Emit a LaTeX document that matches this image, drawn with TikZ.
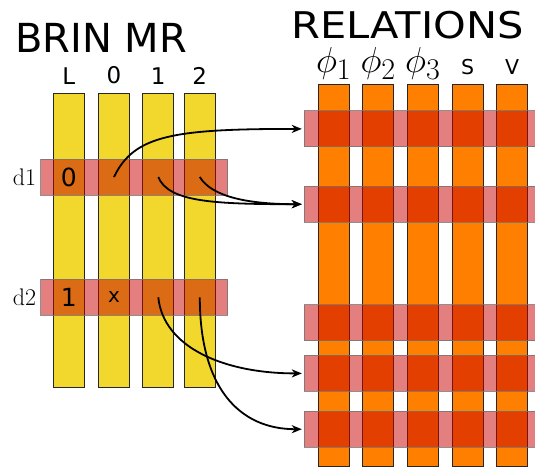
\documentclass[tikz,border=0pt]{standalone}
\usepackage{fontspec}
\setsansfont{DejaVu Sans}
\usetikzlibrary{positioning, arrows.meta}
\definecolor{BrinYellow}{RGB}{242,216,44}
\definecolor{RelOrange}{RGB}{255,128,0}
\definecolor{RowRed}{RGB}{200,0,0}

\begin{document}
\begin{tikzpicture}[
  x=1pt, y=-1pt,
  col/.style={draw=black!85, line width=1pt, inner sep=0pt, minimum width=31pt},
  brincol/.style={col, fill=BrinYellow, minimum height=294pt},
  relcol/.style={col, fill=RelOrange, minimum height=382pt},
  row/.style={fill=RowRed, fill opacity=0.5, draw=black!55, draw opacity=0.8, line width=1pt, inner sep=0pt, minimum height=36pt},
  title/.style={font=\sffamily\fontsize{40}{40}\selectfont, inner sep=0pt},
  hd/.style={font=\sffamily\fontsize{23}{23}\selectfont, inner sep=0pt},
  cell/.style={font=\sffamily\fontsize{25}{25}\selectfont, inner sep=0pt},
  dl/.style={font=\fontsize{24}{24}\selectfont, inner sep=0pt},
  phi/.style={font=\Huge, inner sep=0pt},
  link/.style={line width=1.8pt, shorten >=2pt, -{Stealth[length=10pt, width=8pt, inset=3pt]}},
]
  \useasboundingbox (0,0) rectangle (535,467);

  % BRIN MR
  \node[title] (brin) at (101,37.5) {BRIN MR};
  \node[brincol] (bL) at (68.8,240) {};
  \node[brincol] (b0) at (114,240) {};
  \node[brincol] (b1) at (158.3,240) {};
  \node[brincol] (b2) at (199.8,240) {};
  \node[hd, above=8pt of bL] (hL) {L};
  \node[hd, above=8pt of b0] (h0) {0};
  \node[hd, above=8pt of b1] (h1) {1};
  \node[hd, above=8pt of b2] (h2) {2};

  \node[row, minimum width=186.7pt] (d1) at (134.3,177) {};
  \node[row, minimum width=186.7pt] (d2) at (134.3,297.3) {};
  \node[dl, left=4pt of d1] (ld1) {d1};
  \node[dl, left=4pt of d2] (ld2) {d2};
  \node[cell] (v1L) at (bL |- d1) {0};
  \node[cell] (v2L) at (bL |- d2) {1};
  \node[cell, font=\sffamily\fontsize{20}{20}\selectfont] (v20) at (b0 |- d2) {x};

  % RELATIONS
  \node[title] (rel) at (407.5,25) {\scalebox{1.04}[0.92]{RELATIONS}};
  \node[relcol] (r1) at (333.8,275.2) {};
  \node[relcol] (r2) at (378.3,275.2) {};
  \node[relcol] (r3) at (422.8,275.2) {};
  \node[relcol] (r4) at (467.7,275.2) {};
  \node[relcol] (r5) at (512.2,275.2) {};
  \node[phi, above=4pt of r1] (p1) {\scalebox{1.45}{$\phi_1$}};
  \node[phi, above=4pt of r2] (p2) {\scalebox{1.45}{$\phi_2$}};
  \node[phi, above=4pt of r3] (p3) {\scalebox{1.45}{$\phi_3$}};
  \node[hd, font=\sffamily\fontsize{20.5}{20.5}\selectfont, above=9pt of r4] (hS) {S};
  \node[hd, font=\sffamily\fontsize{20.5}{20.5}\selectfont, above=9pt of r5] (hV) {V};

  \node[row, minimum width=236pt] (t1) at (422.3,128.9) {};
  \node[row, minimum width=236pt] (t2) at (422.3,204.2) {};
  \node[row, minimum width=236pt] (t3) at (422.3,322.9) {};
  \node[row, minimum width=236pt] (t4) at (422.3,373.4) {};
  \node[row, minimum width=236pt] (t5) at (422.3,429.2) {};

  % links
  \coordinate (s10) at (b0 |- d1);
  \coordinate (s11) at (b1 |- d1);
  \coordinate (s12) at (b2 |- d1);
  \coordinate (s21) at (b1 |- d2);
  \coordinate (s22) at (b2 |- d2);
  \draw[link] (s10) .. controls +(20,-42) and +(-130,0) .. (t1.west);
  \draw[link] (s11) .. controls +(10,25) and +(-90,0) .. (t2.west);
  \draw[link] (s12) .. controls +(12,20) and +(-55,0) .. (t2.west);
  \draw[link] (s21) .. controls +(5,50) and +(-80,0) .. (t4.west);
  \draw[link] (s22) .. controls +(0,90) and +(-65,0) .. (t5.west);
\end{tikzpicture}
\end{document}
